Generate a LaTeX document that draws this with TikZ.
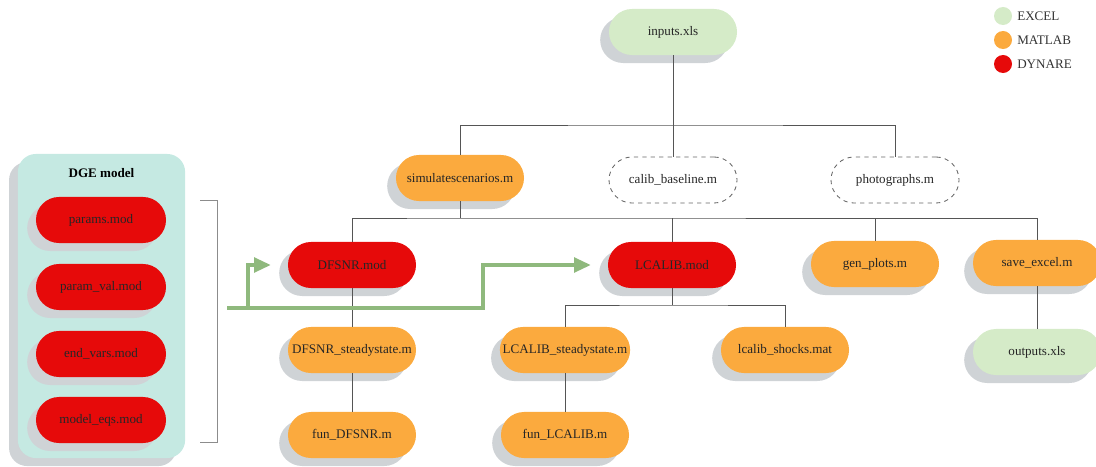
\documentclass[tikz,border=0pt]{standalone}
\usepackage{fontspec}
\setmainfont{Liberation Serif}
\usetikzlibrary{arrows.meta}
\usetikzlibrary{shadows}
\definecolor{excelc}{RGB}{213,235,200}
\definecolor{matlabc}{RGB}{251,170,62}
\definecolor{dynarec}{RGB}{230,10,10}
\definecolor{shadowc}{RGB}{207,211,214}
\definecolor{teal}{RGB}{197,233,226}
\definecolor{flowc}{RGB}{143,185,125}
\definecolor{linec}{RGB}{85,85,85}
\tikzset{pill/.style={rectangle, rounded corners=0.575cm, minimum width=3.2cm, minimum height=1.15cm, inner xsep=2pt, text=black!85, font=\fontsize{9.3}{11}\selectfont}}
\tikzset{shad/.style={general shadow={fill=shadowc, shadow xshift=-0.22cm, shadow yshift=-0.2cm}}}
\tikzset{excel/.style={pill, shad, fill=excelc}}
\tikzset{matlab/.style={pill, shad, fill=matlabc}}
\tikzset{dynare/.style={pill, shad, fill=dynarec}}
\tikzset{ghost/.style={pill, draw=black!60, dashed, line width=0.6pt}}
\tikzset{conn/.style={draw=linec, line width=0.6pt}}
\tikzset{flow/.style={draw=flowc, line width=2.8pt, -{Triangle[length=0.42cm, width=0.36cm]}}}
\tikzset{legdot/.style={circle, minimum size=0.45cm, inner sep=0pt}}
\tikzset{legtxt/.style={right, font=\fontsize{9.3}{11}\selectfont, text=black!80}}

\begin{document}
\begin{tikzpicture}[x=0.025cm, y=-0.025cm]
\useasboundingbox (0,0) rectangle (1096,466);
% DGE model block
\node[rectangle, rounded corners=0.45cm, shad, fill=teal, minimum width=4.18cm, minimum height=7.6cm] (dge) at (101.5,306) {};
\node[font=\fontsize{9.3}{11}\selectfont\bfseries, anchor=north] (dgetitle) at (101.5,163) {DGE model};
\node[dynare, minimum width=3.25cm] (params) at (101,220) {params.mod};
\node[dynare, minimum width=3.25cm] (paramval) at (101,287) {param\_val.mod};
\node[dynare, minimum width=3.25cm] (endvars) at (101,354) {end\_vars.mod};
\node[dynare, minimum width=3.25cm] (modeleqs) at (101,420) {model\_eqs.mod};
\draw[draw=black!45, line width=0.6pt] (200,200) -- (217,200) -- (217,442) -- (200,442);

% tree
\node[excel] (inputs) at (673,32) {inputs.xls};
\node[matlab] (simul) at (460,178) {simulatescenarios.m};
\node[ghost] (calib) at (673,180) {calib\_baseline.m};
\node[ghost] (photo) at (895,180) {photographs.m};
\node[dynare] (dfsnr) at (352,265) {DFSNR.mod};
\node[dynare] (lcalib) at (672,265) {LCALIB.mod};
\node[matlab] (genplots) at (875,264) {gen\_plots.m};
\node[matlab] (saveexcel) at (1037,263) {save\_excel.m};
\node[matlab] (dfsnrss) at (352,350) {DFSNR\_steadystate.m};
\node[matlab] (lcalibss) at (565,350) {LCALIB\_steadystate.m};
\node[matlab] (shocks) at (785,350) {lcalib\_shocks.mat};
\node[excel] (outputs) at (1037,352) {outputs.xls};
\node[matlab] (fundfsnr) at (352,435) {fun\_DFSNR.m};
\node[matlab] (funlcalib) at (565,435) {fun\_LCALIB.m};

\coordinate (bus1) at (673,125);
\coordinate (bus2) at (460,218);
\coordinate (bus3) at (672,305);
\draw[conn] (inputs) -- (bus1);
\draw[conn] (simul.north) |- (bus1) -| (photo.north);
\draw[conn] (calib.north) -- (calib |- bus1);
\draw[conn] (simul.south) -- (bus2);
\draw[conn] (dfsnr.north) |- (bus2) -| (saveexcel.north);
\draw[conn] (lcalib.north) -- (lcalib |- bus2);
\draw[conn] (genplots.north) -- (genplots |- bus2);
\draw[conn] (saveexcel) -- (outputs);
\draw[conn] (dfsnr) -- (dfsnrss);
\draw[conn] (dfsnrss) -- (fundfsnr);
\draw[conn] (lcalib.south) -- (bus3);
\draw[conn] (lcalibss.north) |- (bus3) -| (shocks.north);
\draw[conn] (lcalibss) -- (funlcalib);

% flow arrows
\coordinate (gstart) at (227,308);
\coordinate (gsplit) at (248,308);
\coordinate (gturn) at (483,308);
\draw[flow, shorten >=0.42cm] (gstart) -- (gturn) |- (lcalib.west);
\draw[flow, shorten >=0.42cm] (gsplit) |- (dfsnr.west);

% legend
\node[legdot, fill=excelc] (legexcel) at (1003,16) {};
\node[legdot, fill=matlabc] (legmatlab) at (1003,40) {};
\node[legdot, fill=dynarec] (legdynare) at (1003,64) {};
\node[legtxt] at (legexcel.east) {EXCEL};
\node[legtxt] at (legmatlab.east) {MATLAB};
\node[legtxt] at (legdynare.east) {DYNARE};
\end{tikzpicture}
\end{document}
